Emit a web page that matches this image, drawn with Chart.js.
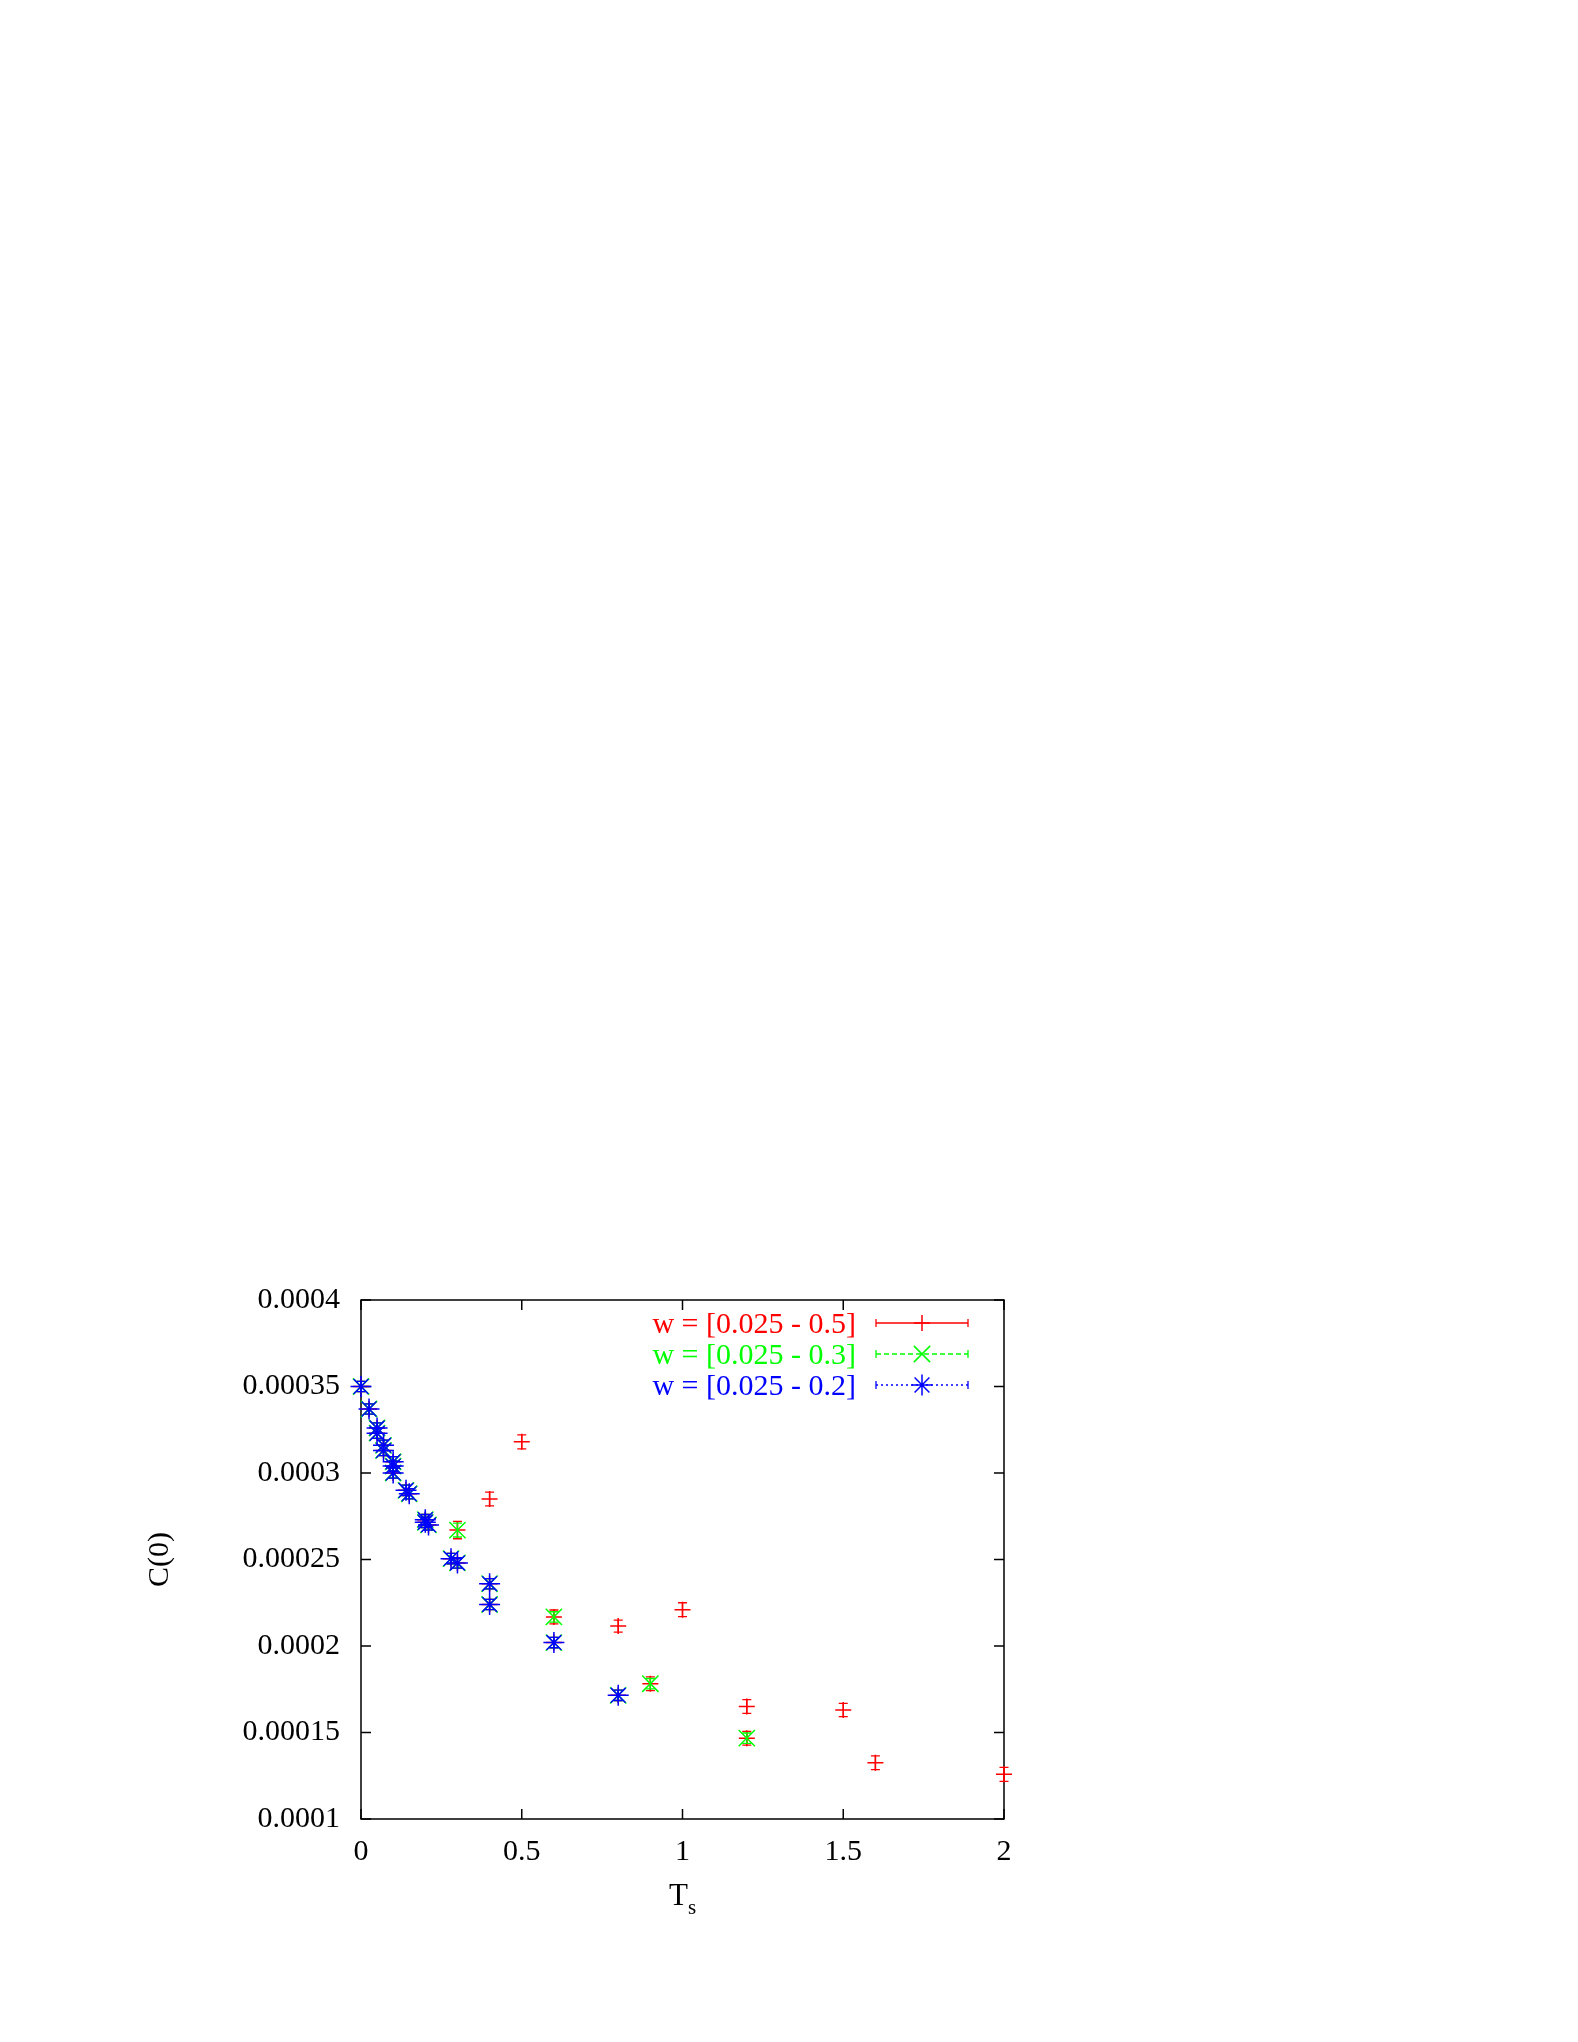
<!DOCTYPE html>
<html>
<head>
<meta charset="utf-8">
<title>C(0) vs T_s</title>
<script src="https://cdn.jsdelivr.net/npm/chart.js@4.4.1/dist/chart.umd.min.js"></script>
<style>
  html, body { margin: 0; padding: 0; background: #fff; }
  canvas { display: block; }
</style>
</head>
<body>
<canvas id="c0Chart" width="1578" height="2042"></canvas>
<script>
// w = [0.025 - 0.5]
const tsRed  = [0, 0.025, 0.05, 0.05, 0.07, 0.07, 0.1, 0.1, 0.1, 0.14, 0.15, 0.2, 0.2, 0.21, 0.28, 0.3, 0.3, 0.4, 0.4, 0.6, 0.6, 0.8, 0.9, 1.2,
                0.4, 0.5, 0.8, 1.0, 1.2, 1.5, 1.6, 2.0];
const c0Red  = [0.000350, 0.000337, 0.000326, 0.000323, 0.000316, 0.000313, 0.0003065, 0.000304, 0.000300, 0.000290, 0.000288,
                0.000273, 0.0002715, 0.000270, 0.0002505, 0.000248, 0.000267, 0.000236, 0.000224, 0.000202, 0.0002168,
                0.0001715, 0.0001782, 0.0001467,
                0.000285, 0.000318, 0.0002115, 0.000221, 0.000165, 0.000163, 0.0001325, 0.0001258];
const errRed = [0.000003, 0.000003, 0.000003, 0.000003, 0.000003, 0.000003, 0.000003, 0.000003, 0.000003, 0.000003, 0.000003,
                0.000003, 0.000003, 0.000003, 0.000003, 0.000003, 0.000005, 0.000003, 0.000003, 0.000003, 0.000004,
                0.000003, 0.000004, 0.000004,
                0.000004, 0.000004, 0.0000035, 0.000004, 0.000004, 0.0000038, 0.000004, 0.000004];

// w = [0.025 - 0.3]
const tsGreen  = [0, 0.025, 0.05, 0.05, 0.07, 0.07, 0.1, 0.1, 0.1, 0.14, 0.15, 0.2, 0.2, 0.21, 0.28, 0.3, 0.3, 0.4, 0.4, 0.6, 0.6, 0.8, 0.9, 1.2];
const c0Green  = [0.000350, 0.000337, 0.000326, 0.000323, 0.000316, 0.000313, 0.0003065, 0.000304, 0.000300, 0.000290, 0.000288,
                  0.000273, 0.0002715, 0.000270, 0.0002505, 0.000248, 0.000267, 0.000236, 0.000224, 0.000202, 0.0002168,
                  0.0001715, 0.0001782, 0.0001467];
const errGreen = [0.000003, 0.000003, 0.000003, 0.000003, 0.000003, 0.000003, 0.000003, 0.000003, 0.000003, 0.000003, 0.000003,
                  0.000003, 0.000003, 0.000003, 0.000003, 0.000003, 0.000004, 0.000003, 0.000003, 0.000003, 0.000003,
                  0.000003, 0.000003, 0.000003];

// w = [0.025 - 0.2]
const tsBlue  = [0, 0.025, 0.05, 0.05, 0.07, 0.07, 0.1, 0.1, 0.1, 0.14, 0.15, 0.2, 0.2, 0.21, 0.28, 0.3, 0.4, 0.4, 0.6, 0.8];
const c0Blue  = [0.000350, 0.000337, 0.000326, 0.000323, 0.000316, 0.000313, 0.0003065, 0.000304, 0.000300, 0.000290, 0.000288,
                 0.000273, 0.0002715, 0.000270, 0.0002505, 0.000248, 0.000236, 0.000224, 0.000202, 0.0001715];
const errBlue = [0.000003, 0.000003, 0.000003, 0.000003, 0.000003, 0.000003, 0.000003, 0.000003, 0.000003, 0.000003,
                 0.000003, 0.000003, 0.000003, 0.000003, 0.000003, 0.000003, 0.000003, 0.000003, 0.000003, 0.000003];

const seriesLabels = ['w = [0.025 - 0.5]', 'w = [0.025 - 0.3]', 'w = [0.025 - 0.2]'];
const xTicks = [0, 0.5, 1, 1.5, 2];
const yTicks = [0.0001, 0.00015, 0.0002, 0.00025, 0.0003, 0.00035, 0.0004];

const FONT = "'Liberation Serif', 'Times New Roman', serif";
const TICK = 10;
const CAP = 4.5;

const toPoints = (xs, ys) => xs.map((x, i) => ({x: x, y: ys[i]}));

// gnuplot style inward ticks + frame
const framePlugin = {
  id: 'frame',
  beforeDatasetsDraw(chart) {
    const {ctx, chartArea: a, scales: {x, y}} = chart;
    ctx.save();
    ctx.strokeStyle = '#000';
    ctx.lineWidth = 1.5;
    ctx.strokeRect(a.left, a.top, a.width, a.height);
    ctx.beginPath();
    x.ticks.forEach(t => {
      const px = x.getPixelForValue(t.value);
      ctx.moveTo(px, a.bottom); ctx.lineTo(px, a.bottom - TICK);
      ctx.moveTo(px, a.top); ctx.lineTo(px, a.top + TICK);
    });
    y.ticks.forEach(t => {
      const py = y.getPixelForValue(t.value);
      ctx.moveTo(a.left, py); ctx.lineTo(a.left + TICK, py);
      ctx.moveTo(a.right, py); ctx.lineTo(a.right - TICK, py);
    });
    ctx.stroke();
    ctx.restore();
  }
};

const errorBarPlugin = {
  id: 'errorBars',
  afterDatasetDraw(chart, args) {
    const ds = chart.data.datasets[args.index];
    const {x, y} = chart.scales;
    const ctx = chart.ctx;
    ctx.save();
    ctx.strokeStyle = ds.pointBorderColor;
    ctx.lineWidth = 1.3;
    ctx.beginPath();
    ds.data.forEach((p, i) => {
      const px = x.getPixelForValue(p.x);
      const lo = y.getPixelForValue(p.y - ds.yErr[i]);
      const hi = y.getPixelForValue(p.y + ds.yErr[i]);
      ctx.moveTo(px, lo); ctx.lineTo(px, hi);
      ctx.moveTo(px - CAP, lo); ctx.lineTo(px + CAP, lo);
      ctx.moveTo(px - CAP, hi); ctx.lineTo(px + CAP, hi);
    });
    ctx.stroke();
    ctx.restore();
  }
};

// key in the top right corner: text, then line sample with caps and the marker
const keyPlugin = {
  id: 'gnuKey',
  afterDatasetsDraw(chart) {
    const {ctx, chartArea: a} = chart;
    chart.data.datasets.forEach((ds, i) => {
      const y = a.top + 23 + i * 31;
      const x0 = a.right - 128, x1 = a.right - 36, xm = (x0 + x1) / 2;
      ctx.save();
      ctx.font = '30px ' + FONT;
      ctx.fillStyle = ds.pointBorderColor;
      ctx.textAlign = 'right';
      ctx.textBaseline = 'alphabetic';
      ctx.fillText(ds.label, a.right - 148, y + 10);
      ctx.strokeStyle = ds.pointBorderColor;
      ctx.lineWidth = 1.3;
      ctx.setLineDash(ds.keyDash);
      ctx.beginPath(); ctx.moveTo(x0, y); ctx.lineTo(x1, y); ctx.stroke();
      ctx.setLineDash([]);
      ctx.beginPath();
      ctx.moveTo(x0, y - 4); ctx.lineTo(x0, y + 4);
      ctx.moveTo(x1, y - 4); ctx.lineTo(x1, y + 4);
      ctx.stroke();
      ctx.lineWidth = ds.pointBorderWidth;
      Chart.helpers.drawPoint(ctx, {pointStyle: ds.pointStyle, radius: ds.pointRadius, rotation: 0, borderWidth: ds.pointBorderWidth}, xm, y);
      ctx.restore();
    });
  }
};

// x axis title with subscript
const xTitlePlugin = {
  id: 'xTitle',
  afterDraw(chart) {
    const {ctx, chartArea: a} = chart;
    ctx.save();
    ctx.fillStyle = '#000';
    ctx.textBaseline = 'alphabetic';
    ctx.textAlign = 'left';
    ctx.font = '31px ' + FONT;
    const wT = ctx.measureText('T').width;
    ctx.font = '21px ' + FONT;
    const wS = ctx.measureText('s').width;
    const x0 = (a.left + a.right) / 2 - (wT + wS) / 2;
    ctx.font = '31px ' + FONT;
    ctx.fillText('T', x0, a.bottom + 86);
    ctx.font = '21px ' + FONT;
    ctx.fillText('s', x0 + wT, a.bottom + 95);
    ctx.restore();
  }
};

new Chart(document.getElementById('c0Chart'), {
  type: 'scatter',
  data: {
    datasets: [
      {
        label: seriesLabels[0],
        data: toPoints(tsRed, c0Red),
        yErr: errRed,
        keyDash: [],
        pointStyle: 'cross',
        pointRadius: 8,
        pointBorderWidth: 1.5,
        pointBorderColor: '#ff0000',
        pointBackgroundColor: '#ff0000',
        showLine: false,
        clip: false,
        order: 3
      },
      {
        label: seriesLabels[1],
        data: toPoints(tsGreen, c0Green),
        yErr: errGreen,
        keyDash: [5, 3],
        pointStyle: 'crossRot',
        pointRadius: 11.5,
        pointBorderWidth: 1.5,
        pointBorderColor: '#00ff00',
        pointBackgroundColor: '#00ff00',
        showLine: false,
        clip: false,
        order: 2
      },
      {
        label: seriesLabels[2],
        data: toPoints(tsBlue, c0Blue),
        yErr: errBlue,
        keyDash: [2, 3],
        pointStyle: 'star',
        pointRadius: 10.5,
        pointBorderWidth: 1.5,
        pointBorderColor: '#0000ff',
        pointBackgroundColor: '#0000ff',
        showLine: false,
        clip: false,
        order: 1
      }
    ]
  },
  options: {
    responsive: false,
    devicePixelRatio: 1,
    animation: false,
    layout: { padding: { top: 1300, left: 142, right: 574, bottom: 123 } },
    plugins: { legend: { display: false }, tooltip: { enabled: false } },
    scales: {
      x: {
        type: 'linear',
        min: xTicks[0],
        max: xTicks[xTicks.length - 1],
        afterBuildTicks: s => { s.ticks = xTicks.map(v => ({value: v})); },
        afterFit: s => { s.height = 100; },
        grid: { display: false, drawTicks: false },
        border: { display: false },
        ticks: {
          padding: 15,
          color: '#000',
          font: { family: FONT, size: 30 },
          maxRotation: 0,
          callback: v => String(v)
        },
        title: { display: false }
      },
      y: {
        type: 'linear',
        min: yTicks[0],
        max: yTicks[yTicks.length - 1],
        afterBuildTicks: s => { s.ticks = yTicks.map(v => ({value: v})); },
        afterFit: s => { s.width = 219; },
        grid: { display: false, drawTicks: false },
        border: { display: false },
        ticks: {
          padding: 21,
          color: '#000',
          font: { family: FONT, size: 30 },
          callback: v => parseFloat(Number(v).toPrecision(6)).toString()
        },
        title: {
          display: true,
          text: 'C(0)',
          color: '#000',
          font: { family: FONT, size: 30 },
          padding: 0
        }
      }
    }
  },
  plugins: [framePlugin, errorBarPlugin, keyPlugin, xTitlePlugin]
});
</script>
</body>
</html>
